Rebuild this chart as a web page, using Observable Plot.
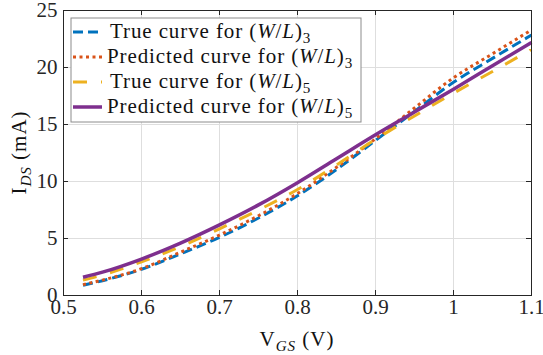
<!DOCTYPE html>
<html><head><meta charset="utf-8">
<script src="https://cdn.jsdelivr.net/npm/d3@7"></script>
<script src="https://cdn.jsdelivr.net/npm/@observablehq/plot@0.6"></script>
<style>html,body{margin:0;padding:0;background:#fff;} svg{display:block}</style>
</head><body><div id="chart"></div>
<script>
// ---- data ----
const vgs     = [0.525, 0.55, 0.6, 0.65, 0.7, 0.75, 0.8, 0.85, 0.9, 0.95, 1.0, 1.05, 1.1];
const trueWL3 = [0.9, 1.3, 2.3, 3.65, 5.1, 6.8, 8.75, 11.05, 13.6, 16.15, 18.7, 20.8, 22.85];
const predWL3 = [0.95, 1.35, 2.35, 3.8, 5.3, 7.0, 8.95, 11.25, 13.75, 16.45, 19.1, 21.2, 23.3];
const trueWL5 = [1.35, 1.8, 2.95, 4.3, 5.85, 7.5, 9.3, 11.45, 13.7, 15.75, 17.75, 19.65, 21.6];
const predWL5 = [1.6, 2.05, 3.2, 4.6, 6.2, 7.95, 9.9, 12.0, 14.1, 16.1, 18.1, 20.15, 22.2];
const seriesLabels = ["True curve for ", "Predicted curve for ", "True curve for ", "Predicted curve for "];
const seriesSubs = ["3", "3", "5", "5"];
const xTicks = [0.5, 0.6, 0.7, 0.8, 0.9, 1, 1.1];
const yTicks = [0, 5, 10, 15, 20, 25];

// ---- styles ----
const styles = [
  {stroke: "#0072BD", strokeWidth: 3, strokeDasharray: "10,5"},
  {stroke: "#D95319", strokeWidth: 3, strokeDasharray: "3,3.5"},
  {stroke: "#EDB120", strokeWidth: 3, strokeDasharray: "14,14"},
  {stroke: "#7E2F8E", strokeWidth: 3.5, strokeDasharray: null}
];
const seriesValues = [trueWL3, predWL3, trueWL5, predWL5];

const W = 543, H = 355, mL = 63, mR = 12, mT = 10, mB = 60;
const pw = W - mL - mR, ph = H - mT - mB;
const axisColor = "#262626";
const font = "'Liberation Serif', 'Times New Roman', serif";
const fs = 21;

const lineMarks = seriesValues.map((vals, i) =>
  Plot.line(vgs.map((x, j) => ({x, y: vals[j]})), {
    x: "x", y: "y", curve: "monotone-x", strokeLinecap: "butt", strokeLinejoin: "round",
    ...styles[i]
  })
);

const svg = Plot.plot({
  width: W, height: H,
  marginLeft: mL, marginRight: mR, marginTop: mT, marginBottom: mB,
  style: {fontFamily: font, fontSize: fs + "px", color: axisColor, background: "white"},
  x: {domain: [0.5, 1.1]},
  y: {domain: [0, 25]},
  marks: [
    Plot.gridX({ticks: xTicks, stroke: "#dedede", strokeOpacity: 1}),
    Plot.gridY({ticks: yTicks, stroke: "#dedede", strokeOpacity: 1}),
    ...lineMarks,
    Plot.tickX(xTicks, {x: d => d, insetTop: ph - 5, stroke: axisColor}),
    Plot.tickX(xTicks, {x: d => d, insetBottom: ph - 5, stroke: axisColor}),
    Plot.tickY(yTicks, {y: d => d, insetRight: pw - 5, stroke: axisColor}),
    Plot.tickY(yTicks, {y: d => d, insetLeft: pw - 5, stroke: axisColor}),
    Plot.frame({stroke: axisColor, strokeWidth: 1}),
    Plot.axisX({ticks: xTicks, tickSize: 0, tickPadding: 4, label: null, tickFormat: d => String(d),
      fontFamily: font, fontSize: fs, fill: "#262626"}),
    Plot.axisY({ticks: yTicks, tickSize: 0, tickPadding: 6, label: null, tickFormat: d => String(d),
      fontFamily: font, fontSize: fs, fill: "#262626"})
  ]
});
document.getElementById("chart").appendChild(svg);

const root = d3.select(svg);

function mathText(g, x, y, parts, opts = {}) {
  const size = opts.size || fs;
  const t = g.append("text").attr("x", x).attr("y", y)
    .attr("font-family", font).attr("font-size", size)
    .attr("letter-spacing", opts.spacing ?? 0.5)
    .attr("fill", "#111")
    .attr("text-anchor", opts.anchor || "start");
  if (opts.transform) t.attr("transform", opts.transform);
  let shift = 0;
  for (const p of parts) {
    const ts = t.append("tspan").text(p.t);
    if (p.italic) ts.attr("font-style", "italic");
    const target = p.sub ? 5 : 0;
    if (target !== shift) { ts.attr("dy", target - shift); shift = target; }
    if (p.sub) ts.attr("font-size", size * 0.72);
  }
  return t;
}

// ---- legend ----
const lg = root.append("g");
lg.append("rect").attr("x", 71).attr("y", 18).attr("width", 290).attr("height", 104)
  .attr("fill", "white").attr("stroke", "#8c8c8c").attr("stroke-width", 1);
seriesLabels.forEach((lab, i) => {
  const cy = 32 + i * 25;
  const s = styles[i];
  lg.append("line").attr("x1", 73).attr("x2", 102).attr("y1", cy).attr("y2", cy)
    .attr("stroke", s.stroke).attr("stroke-width", s.strokeWidth)
    .attr("stroke-dasharray", s.strokeDasharray).attr("stroke-linecap", "butt");
  const tx = lab.startsWith("True") ? 110 : 107;
  mathText(lg, tx, cy + 6, [
    {t: lab}, {t: "("}, {t: "W", italic: true}, {t: "/"}, {t: "L", italic: true}, {t: ")"},
    {t: seriesSubs[i], sub: true}
  ], {spacing: 0.9});
});

// ---- axis labels ----
mathText(root, mL + pw / 2, 346, [
  {t: "V"}, {t: "GS", italic: true, sub: true}, {t: " (V)"}
], {anchor: "middle", spacing: 1});
mathText(root, 0, 0, [
  {t: "I"}, {t: "DS", italic: true, sub: true}, {t: " (mA)"}
], {anchor: "middle", spacing: 1, transform: `translate(26,${mT + ph / 2}) rotate(-90)`});
</script></body></html>
